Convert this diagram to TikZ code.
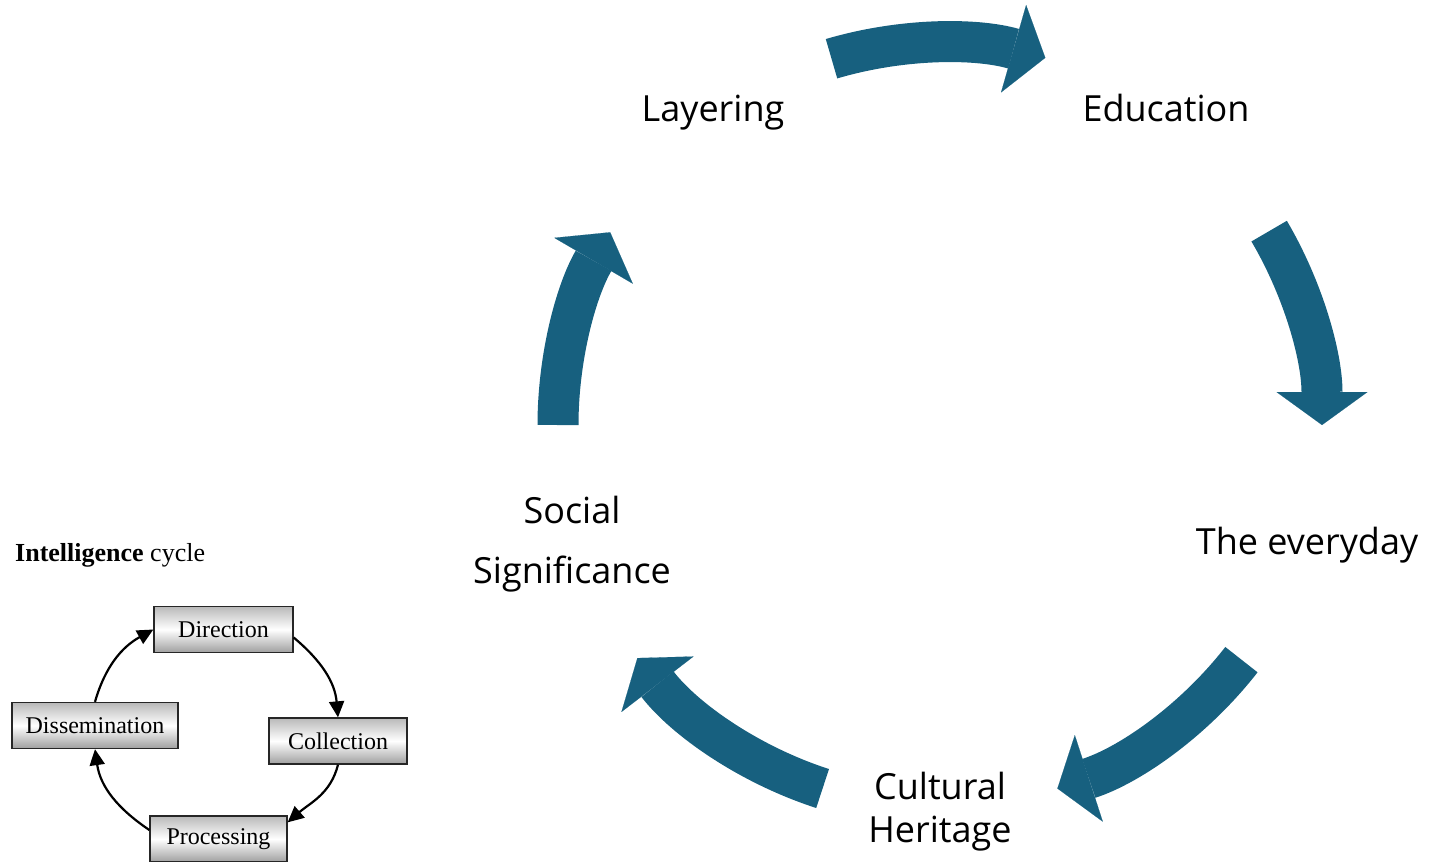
\documentclass[tikz,border=0pt]{standalone}
\usepackage{fontspec}
\setmainfont{Liberation Serif}
\newfontfamily\labelfont{Open Sans}
\usetikzlibrary{arrows.meta}
\definecolor{cycleblue}{HTML}{17607F}

\begin{document}
\begin{tikzpicture}[
    x=1pt, y=1pt,
    stage/.style={font=\labelfont\fontsize{36}{43}\selectfont, align=center},
    bigarrow/.style={cycleblue, line width=41pt,
                     -{Triangle[length=33pt, width=91pt, line width=0.1pt]}},
    phase/.style={draw=black!85, line width=1.3pt, top color=gray!55,
                  bottom color=gray!75, middle color=white, minimum height=46pt,
                  inner sep=0pt, font=\fontsize{24}{24}\selectfont},
    flow/.style={line width=2.2pt, -{Triangle[length=16pt, width=15pt]}},
]
\useasboundingbox (0,0) rectangle (1435,-862);

% Main cycle
\coordinate (hub) at (940,-425);
\node[stage, anchor=base] (layering) at (713,-121) {Layering};
\node[stage, anchor=base] (education) at (1166,-121) {Education};
\node[stage, anchor=base] (everyday) at (1307,-554) {The everyday};
\node[stage] (cultural) at (940,-812) {Cultural\\Heritage};
\node[stage, font=\labelfont\fontsize{36}{60}\selectfont] (social) at (572,-544)
    {Social\\Significance};

\draw[bigarrow] ([shift={(106.5:382)}]hub) arc[start angle=106.5, end angle=74, radius=382];
\draw[bigarrow] ([shift={(30.5:382)}]hub) arc[start angle=30.5, end angle=0, radius=382];
\draw[bigarrow] ([shift={(-37.9:382)}]hub) arc[start angle=-37.9, end angle=-72.1, radius=382];
\draw[bigarrow] ([shift={(252.1:382)}]hub) arc[start angle=252.1, end angle=217.6, radius=382];
\draw[bigarrow] ([shift={(180:382)}]hub) arc[start angle=180, end angle=149.7, radius=382];

% Intelligence cycle inset
\node[font=\fontsize{26}{26}\selectfont, anchor=base west, inner sep=0pt] (title)
    at (15,-561) {\textbf{Intelligence} cycle};
\node[phase, minimum width=139pt] (direction) at (223.5,-629.5) {Direction};
\node[phase, minimum width=138pt] (collection) at (338,-741) {Collection};
\node[phase, minimum width=166pt] (dissemination) at (95,-725.5) {Dissemination};
\node[phase, minimum width=137pt] (processing) at (218.5,-839) {Processing};

\draw[flow] ([yshift=-8pt]direction.east) to[out=-40, in=95] (collection.north);
\draw[flow] (collection.south) to[out=-104, in=41] ([yshift=-7pt]processing.north east);
\draw[flow] ([yshift=9pt]processing.west) to[out=146, in=-82] (dissemination.south);
\draw[flow] (dissemination.north) to[out=74, in=-151] (direction.west);
\end{tikzpicture}
\end{document}
